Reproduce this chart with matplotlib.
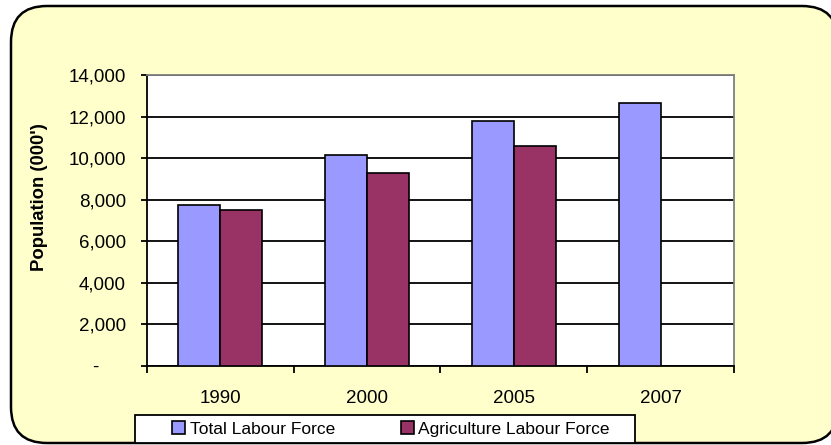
import matplotlib
matplotlib.use("Agg")
import matplotlib.pyplot as plt
import numpy as np
from matplotlib.patches import FancyBboxPatch, Rectangle, Patch
from matplotlib.ticker import FuncFormatter, FixedLocator

years = ["1990", "2000", "2005", "2007"]
total_labour = [7750, 10150, 11800, 12650]
agri_labour = [7500, 9300, 10580, np.nan]
series_names = ["Total Labour Force", "Agriculture Labour Force"]
y_ticks = [0, 2000, 4000, 6000, 8000, 10000, 12000, 14000]

plt.rcParams["font.family"] = ["Liberation Sans", "DejaVu Sans"]

W, H = 831, 445
fig = plt.figure(figsize=(W / 100, H / 100), dpi=100)
fig.patch.set_facecolor("white")

# full-figure background layer in pixel units for the rounded panel
bg = fig.add_axes([0, 0, 1, 1], zorder=-1)
bg.set_xlim(0, W)
bg.set_ylim(0, H)
bg.axis("off")
bg.add_patch(FancyBboxPatch((11, 2), 827, 437,
                            boxstyle="round,pad=0,rounding_size=36",
                            facecolor="#FFFFCC", edgecolor="black",
                            linewidth=1.8, clip_on=False))

ax = fig.add_axes([146.7 / W, 79 / H, (734 - 146.7) / W, (370 - 79) / H], zorder=1)
ax.set_facecolor("white")

x = np.arange(len(years))
w = 1 / 3.5
ax.bar(x - w / 2, total_labour, width=w, color="#9999FF", edgecolor="black",
       linewidth=1.2, zorder=3, label=series_names[0])
ax.bar(x + w / 2, agri_labour, width=w, color="#993366", edgecolor="black",
       linewidth=1.2, zorder=3, label=series_names[1])

ax.set_xlim(-0.5, len(years) - 0.5)
ax.set_ylim(0, 14000)
ax.set_yticks(y_ticks)
ax.yaxis.set_major_formatter(
    FuncFormatter(lambda v, p: "-     " if v == 0 else f"{int(v):,}"))
ax.grid(axis="y", color="black", linewidth=1.3, zorder=1)
ax.set_axisbelow(True)

ax.set_xticks(x)
ax.set_xticklabels(years)
ax.xaxis.set_minor_locator(FixedLocator(np.arange(-0.5, len(years), 1.0)))
ax.tick_params(axis="x", which="major", length=0, pad=17, labelsize=13.5)
ax.tick_params(axis="x", which="minor", length=5, width=1.3, direction="out")
ax.tick_params(axis="y", length=4, width=1.3, pad=11, labelsize=13.5)

for side in ("top", "right"):
    ax.spines[side].set_color("#808080")
    ax.spines[side].set_linewidth(1.3)
ax.spines["left"].set_linewidth(1.3)
ax.spines["bottom"].set_linewidth(1.3)

fig.text(40 / W, (445 - 197) / H, "Population (000')", rotation=90,
         ha="center", va="center", fontsize=13.3, fontweight="bold")

# legend box
bg.add_patch(Rectangle((135, 2), 500, 28, facecolor="white",
                       edgecolor="black", linewidth=1.3))
handles = [Patch(facecolor="#9999FF", edgecolor="black", linewidth=1.2),
           Patch(facecolor="#993366", edgecolor="black", linewidth=1.2)]
fig.legend(handles, series_names, loc="center", ncol=2, frameon=False,
           bbox_to_anchor=(391 / W, 16 / H), fontsize=12.5,
           handlelength=0.75, handleheight=0.75, handletextpad=0.25,
           columnspacing=3.8)

fig.savefig("out.png", dpi=100)
